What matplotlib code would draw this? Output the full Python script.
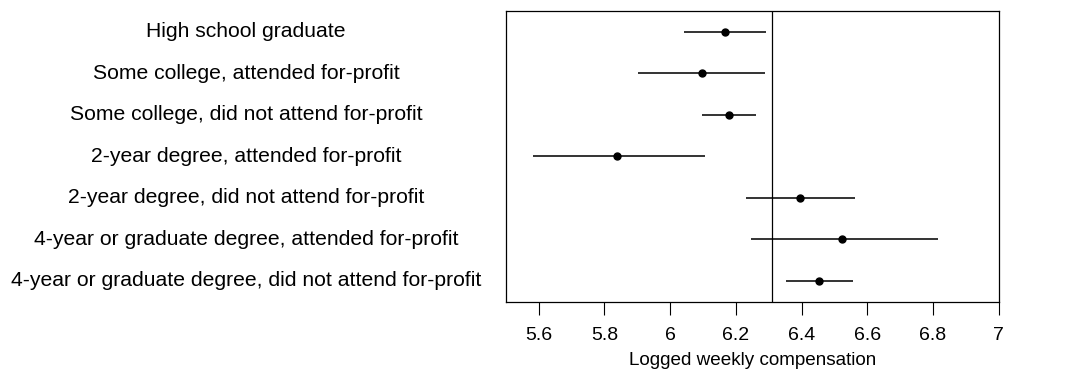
import matplotlib.pyplot as plt

plt.rcParams['font.family'] = ['Liberation Sans', 'DejaVu Sans']

categories = [
    'High school graduate',
    'Some college, attended for-profit',
    'Some college, did not attend for-profit',
    '2-year degree, attended for-profit',
    '2-year degree, did not attend for-profit',
    '4-year or graduate degree, attended for-profit',
    '4-year or graduate degree, did not attend for-profit',
]
estimates = [6.167, 6.096, 6.179, 5.840, 6.396, 6.524, 6.454]
lower = [6.042, 5.902, 6.097, 5.583, 6.231, 6.245, 6.352]
upper = [6.293, 6.289, 6.262, 6.107, 6.563, 6.816, 6.557]
reference_value = 6.311
xticks = [5.6, 5.8, 6.0, 6.2, 6.4, 6.6, 6.8, 7.0]
xtick_labels = ['5.6', '5.8', '6', '6.2', '6.4', '6.6', '6.8', '7']

fig = plt.figure(figsize=(10.66, 3.75), dpi=100)
ax = fig.add_axes([0.4744, 0.1955, 0.4625, 0.7745])

n = len(categories)
ypos = [n - i for i in range(n)]

ax.hlines(ypos, lower, upper, color='#333333', linewidth=1.4)
ax.plot(estimates, ypos, 'o', color='black', markersize=5)
ax.axvline(reference_value, color='black', linewidth=0.9)

ax.set_xlim(5.5, 7.0)
ax.set_ylim(0.5, n + 0.5)
ax.set_yticks([])
ax.set_xticks(xticks)
ax.set_xticklabels(xtick_labels, fontsize=14)
ax.tick_params(axis='x', length=9, width=0.8, pad=9)
for s in ax.spines.values():
    s.set_linewidth(0.9)
ax.set_xlabel('Logged weekly compensation', fontsize=13.6, labelpad=6)

for cat, y in zip(categories, ypos):
    ax.text(-0.527, y, cat, transform=ax.get_yaxis_transform(),
            ha='center', va='center', fontsize=15.2)

fig.savefig('out.png', dpi=100)
